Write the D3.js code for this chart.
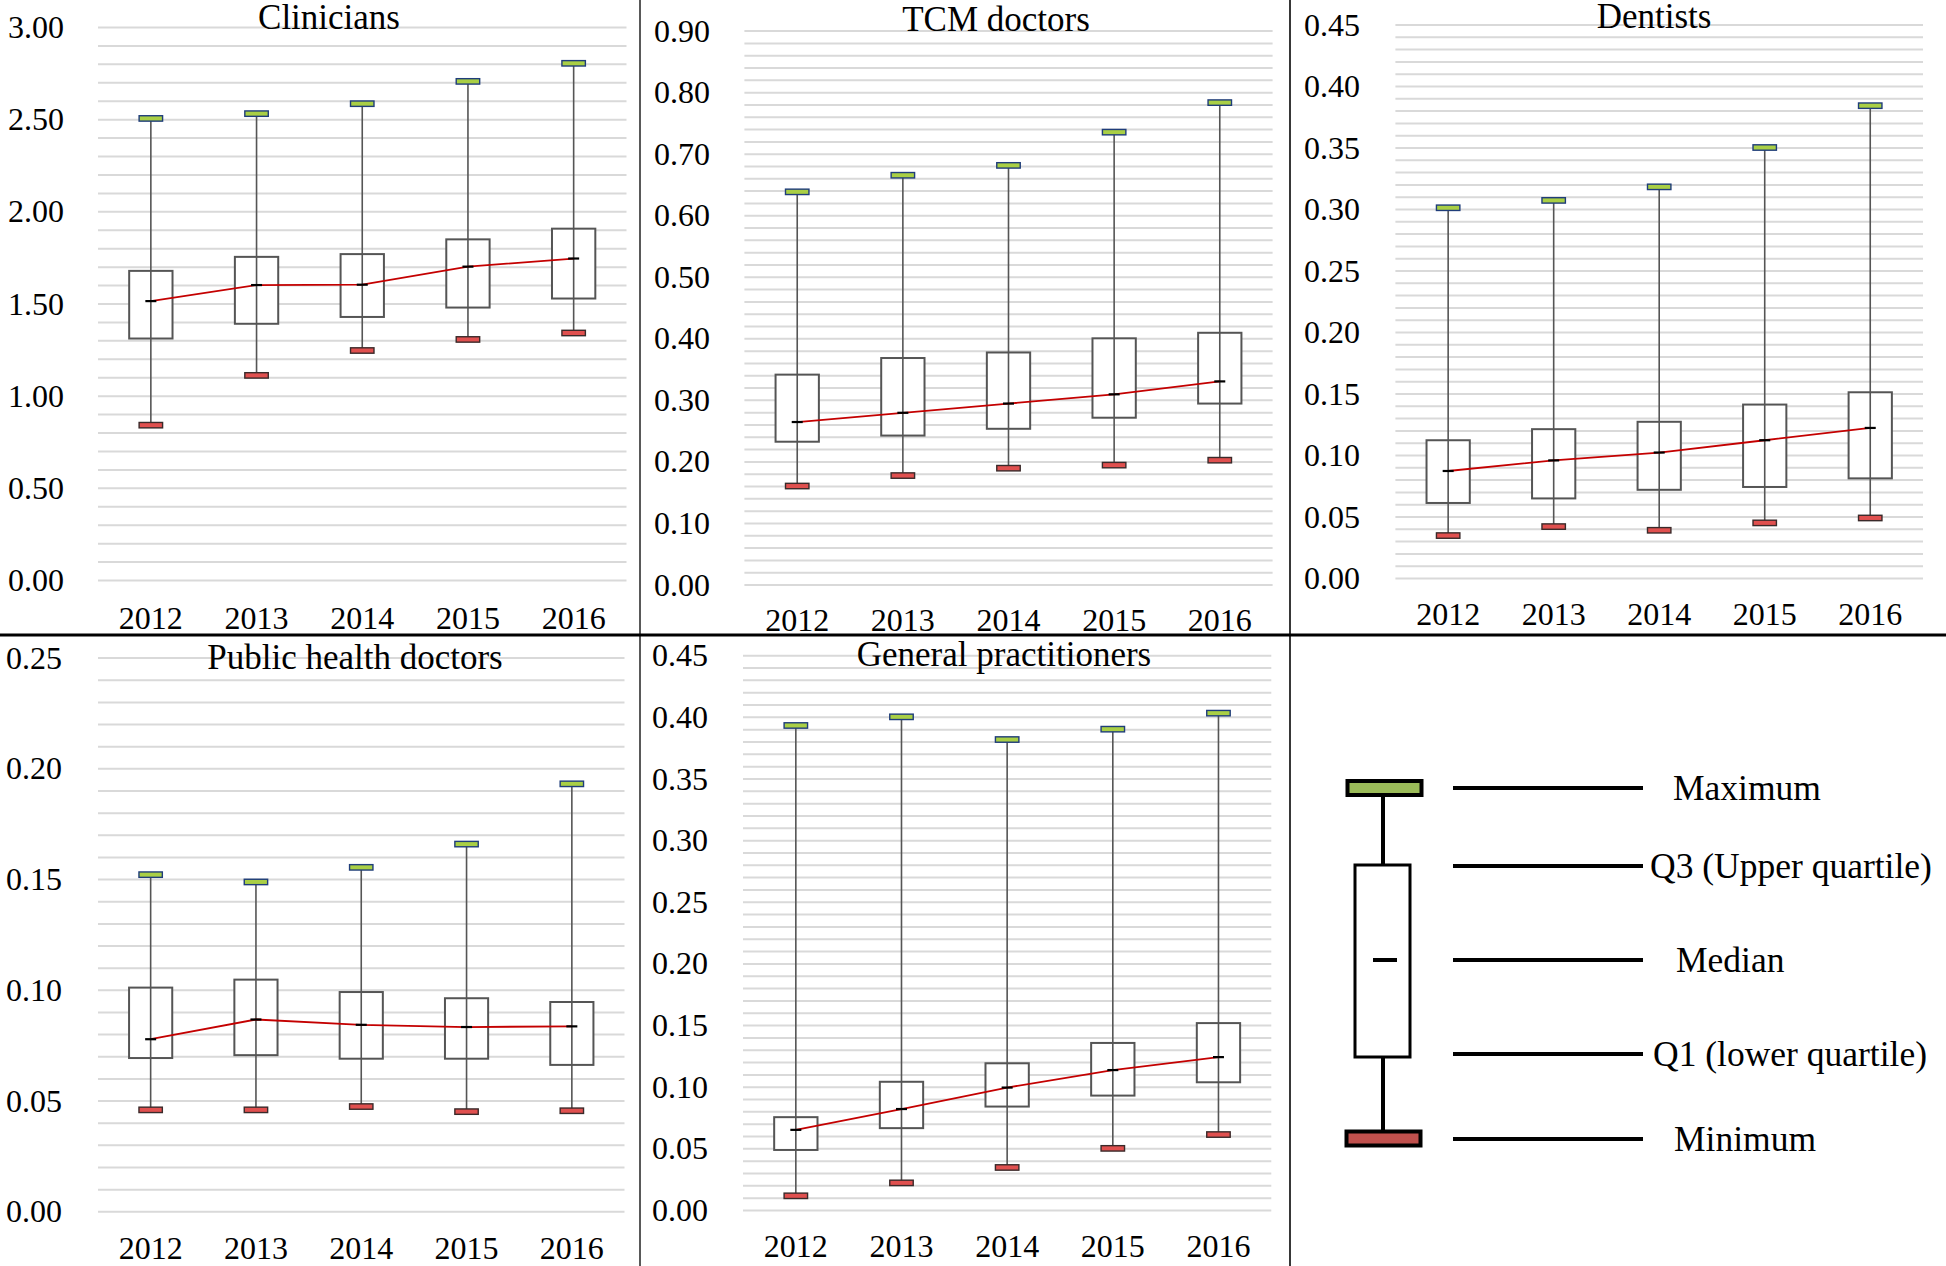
<!DOCTYPE html>
<html>
<head>
<meta charset="utf-8">
<script src="https://cdn.jsdelivr.net/npm/d3@7"></script>
<style>
  html, body { margin: 0; padding: 0; background: #fff; }
  svg { display: block; }
  text { font-family: "Liberation Serif", "Times New Roman", serif; fill: #000; }
</style>
</head>
<body>
<svg id="chart" width="1946" height="1266"></svg>
<script>
// ---------------- DATA ----------------
const years = ["2012", "2013", "2014", "2015", "2016"];
const panelTitles = ["Clinicians", "TCM doctors", "Dentists", "Public health doctors", "General practitioners"];

const cliniciansMin = [0.84, 1.11, 1.245, 1.305, 1.34];
const cliniciansQ1  = [1.31, 1.39, 1.427, 1.478, 1.527];
const cliniciansMed = [1.513, 1.60, 1.602, 1.70, 1.744];
const cliniciansQ3  = [1.677, 1.753, 1.768, 1.848, 1.906];
const cliniciansMax = [2.504, 2.53, 2.584, 2.705, 2.803];

const tcmMin = [0.160, 0.177, 0.189, 0.194, 0.202];
const tcmQ1  = [0.232, 0.242, 0.253, 0.271, 0.294];
const tcmMed = [0.264, 0.279, 0.294, 0.309, 0.330];
const tcmQ3  = [0.341, 0.368, 0.377, 0.400, 0.409];
const tcmMax = [0.638, 0.665, 0.681, 0.735, 0.783];

const dentistsMin = [0.0345, 0.0418, 0.0388, 0.0448, 0.0488];
const dentistsQ1  = [0.061, 0.0647, 0.0717, 0.074, 0.081];
const dentistsMed = [0.087, 0.0956, 0.102, 0.112, 0.122];
const dentistsQ3  = [0.112, 0.121, 0.127, 0.141, 0.151];
const dentistsMax = [0.301, 0.307, 0.318, 0.350, 0.384];

const publicMin = [0.0458, 0.0458, 0.0473, 0.0450, 0.0454];
const publicQ1  = [0.0692, 0.0705, 0.0689, 0.0689, 0.0661];
const publicMed = [0.0777, 0.0866, 0.0842, 0.0832, 0.0835];
const publicQ3  = [0.101, 0.1046, 0.099, 0.0962, 0.0945];
const publicMax = [0.152, 0.1487, 0.1553, 0.1658, 0.193];

const gpMin = [0.0115, 0.022, 0.0345, 0.050, 0.0612];
const gpQ1  = [0.0487, 0.0664, 0.0839, 0.0928, 0.1036];
const gpMed = [0.065, 0.0819, 0.0993, 0.1135, 0.124];
const gpQ3  = [0.0753, 0.104, 0.119, 0.1355, 0.1516];
const gpMax = [0.393, 0.400, 0.3816, 0.390, 0.403];

const axisMax   = [3.0, 0.9, 0.45, 0.25, 0.45];
const majorStep = [0.5, 0.1, 0.05, 0.05, 0.05];
const minorStep = [0.1, 0.02, 0.01, 0.01, 0.01];

const legendLabels = ["Maximum", "Q3 (Upper quartile)", "Median", "Q1 (lower quartile)", "Minimum"];

// ---------------- LAYOUT ----------------
const layout = [
  { x0: 98,    x1: 626.5,  yTop: 27,    yBot: 580,    tickX: 64,   yearY: 618,    titleX: 329,  titleY: 29 },
  { x0: 744.4, x1: 1272.6, yTop: 30.6,  yBot: 584.5,  tickX: 710,  yearY: 620,    titleX: 996,  titleY: 31 },
  { x0: 1395.4,x1: 1923,   yTop: 24.5,  yBot: 578,    tickX: 1360, yearY: 614,    titleX: 1654, titleY: 28 },
  { x0: 98,    x1: 624.5,  yTop: 657.6, yBot: 1211.3, tickX: 62,   yearY: 1248.7, titleX: 355,  titleY: 669 },
  { x0: 743,   x1: 1271.3, yTop: 655.2, yBot: 1210,   tickX: 708,  yearY: 1246.6, titleX: 1004, titleY: 666 }
];

const panelData = [
  { min: cliniciansMin, q1: cliniciansQ1, med: cliniciansMed, q3: cliniciansQ3, max: cliniciansMax },
  { min: tcmMin, q1: tcmQ1, med: tcmMed, q3: tcmQ3, max: tcmMax },
  { min: dentistsMin, q1: dentistsQ1, med: dentistsMed, q3: dentistsQ3, max: dentistsMax },
  { min: publicMin, q1: publicQ1, med: publicMed, q3: publicQ3, max: publicMax },
  { min: gpMin, q1: gpQ1, med: gpMed, q3: gpQ3, max: gpMax }
];

const svg = d3.select("#chart");
const FS_TICK = 32, FS_TITLE = 35, FS_LEG = 35.5;
const MAX_FILL = "#a9cf45", MAX_STROKE = "#1f3d7a";
const MIN_FILL = "#e0504f", MIN_STROKE = "#3a2a2a";
const BOX_STROKE = "#555555";

panelData.forEach((d, i) => {
  const L = layout[i];
  const g = svg.append("g");
  const y = d3.scaleLinear().domain([0, axisMax[i]]).range([L.yBot, L.yTop]);
  const x = d3.scaleBand().domain(years).range([L.x0, L.x1]).padding(0);

  // minor gridlines
  const nMinor = Math.round(axisMax[i] / minorStep[i]);
  const minorVals = d3.range(nMinor + 1).map(k => +(k * minorStep[i]).toFixed(4));
  const grid = g.append("g")
    .attr("transform", `translate(${L.x0},0)`)
    .call(d3.axisLeft(y).tickValues(minorVals).tickSize(-(L.x1 - L.x0)).tickFormat(""));
  grid.select(".domain").remove();
  grid.selectAll(".tick line").attr("stroke", "#d9d9d9").attr("stroke-width", 2);

  // major labels
  const nMajor = Math.round(axisMax[i] / majorStep[i]);
  const majorVals = d3.range(nMajor + 1).map(k => +(k * majorStep[i]).toFixed(4));
  const yAx = g.append("g")
    .attr("transform", `translate(${L.tickX},0)`)
    .call(d3.axisLeft(y).tickValues(majorVals).tickSize(0).tickPadding(0).tickFormat(d3.format(".2f")));
  yAx.select(".domain").remove();
  yAx.selectAll("text").attr("font-size", FS_TICK).attr("font-family", "Liberation Serif, Times New Roman, serif")
    .attr("fill", "#000").attr("dy", "0.33em");

  // year labels
  const xAx = g.append("g")
    .attr("transform", `translate(0,${L.yearY})`)
    .call(d3.axisBottom(x).tickSize(0).tickPadding(0));
  xAx.select(".domain").remove();
  xAx.selectAll("text").attr("font-size", FS_TICK).attr("font-family", "Liberation Serif, Times New Roman, serif")
    .attr("fill", "#000").attr("y", 0).attr("dy", "0.33em");

  // title
  g.append("text").attr("x", L.titleX).attr("y", L.titleY).attr("text-anchor", "middle")
    .attr("font-size", FS_TITLE).text(panelTitles[i]);

  const bw = x.bandwidth();
  const boxW = bw * 0.41, capW = bw * 0.222, capH = 5.4, medW = 11;
  const cx = yr => x(yr) + bw / 2;

  years.forEach((yr, k) => {
    const c = cx(yr);
    // box
    g.append("rect").attr("x", c - boxW / 2).attr("y", y(d.q3[k]))
      .attr("width", boxW).attr("height", y(d.q1[k]) - y(d.q3[k]))
      .attr("fill", "#fff").attr("stroke", BOX_STROKE).attr("stroke-width", 2);
    // whisker (runs through the box)
    g.append("line").attr("x1", c).attr("x2", c).attr("y1", y(d.max[k])).attr("y2", y(d.min[k]))
      .attr("stroke", BOX_STROKE).attr("stroke-width", 1.6);
    // max cap
    g.append("rect").attr("x", c - capW / 2).attr("y", y(d.max[k]) - capH / 2)
      .attr("width", capW).attr("height", capH)
      .attr("fill", MAX_FILL).attr("stroke", MAX_STROKE).attr("stroke-width", 1.4);
    // min cap
    g.append("rect").attr("x", c - capW / 2).attr("y", y(d.min[k]) - capH / 2)
      .attr("width", capW).attr("height", capH)
      .attr("fill", MIN_FILL).attr("stroke", MIN_STROKE).attr("stroke-width", 1.4);
  });

  // median line
  const line = d3.line().x((v, k) => cx(years[k])).y(v => y(v));
  g.append("path").datum(d.med).attr("d", line).attr("fill", "none")
    .attr("stroke", "#c40000").attr("stroke-width", 1.8);

  // median dashes
  years.forEach((yr, k) => {
    const c = cx(yr);
    g.append("line").attr("x1", c - medW / 2).attr("x2", c + medW / 2)
      .attr("y1", y(d.med[k])).attr("y2", y(d.med[k]))
      .attr("stroke", "#000").attr("stroke-width", 2.2);
  });
});

// ---------------- DIVIDERS ----------------
svg.append("line").attr("x1", 640).attr("x2", 640).attr("y1", 0).attr("y2", 1266)
  .attr("stroke", "#222").attr("stroke-width", 1.5);
svg.append("line").attr("x1", 1290).attr("x2", 1290).attr("y1", 0).attr("y2", 1266)
  .attr("stroke", "#222").attr("stroke-width", 1.8);
svg.append("line").attr("x1", 0).attr("x2", 1946).attr("y1", 635).attr("y2", 635)
  .attr("stroke", "#000").attr("stroke-width", 3.2);

// ---------------- LEGEND ----------------
const leg = svg.append("g");
const lc = 1383;
leg.append("line").attr("x1", lc).attr("x2", lc).attr("y1", 796).attr("y2", 865)
  .attr("stroke", "#000").attr("stroke-width", 4);
leg.append("line").attr("x1", lc).attr("x2", lc).attr("y1", 1057).attr("y2", 1130)
  .attr("stroke", "#000").attr("stroke-width", 4);
leg.append("rect").attr("x", 1355).attr("y", 865).attr("width", 55).attr("height", 192)
  .attr("fill", "#fff").attr("stroke", "#000").attr("stroke-width", 3);
leg.append("line").attr("x1", 1373).attr("x2", 1397).attr("y1", 960).attr("y2", 960)
  .attr("stroke", "#000").attr("stroke-width", 4);
leg.append("rect").attr("x", 1347.5).attr("y", 781).attr("width", 74).attr("height", 14)
  .attr("fill", "#9bbb59").attr("stroke", "#000").attr("stroke-width", 4);
leg.append("rect").attr("x", 1346.5).attr("y", 1131.5).attr("width", 74).attr("height", 14)
  .attr("fill", "#c0504d").attr("stroke", "#000").attr("stroke-width", 4);

const legY = [788, 866, 960, 1054, 1139];
const legTextX = [1673, 1650, 1676, 1653, 1674];
legendLabels.forEach((t, k) => {
  leg.append("line").attr("x1", 1453).attr("x2", 1643).attr("y1", legY[k]).attr("y2", legY[k])
    .attr("stroke", "#000").attr("stroke-width", 4);
  leg.append("text").attr("x", legTextX[k]).attr("y", legY[k]).attr("dy", "0.35em")
    .attr("font-size", FS_LEG).text(t);
});
</script>
</body>
</html>
